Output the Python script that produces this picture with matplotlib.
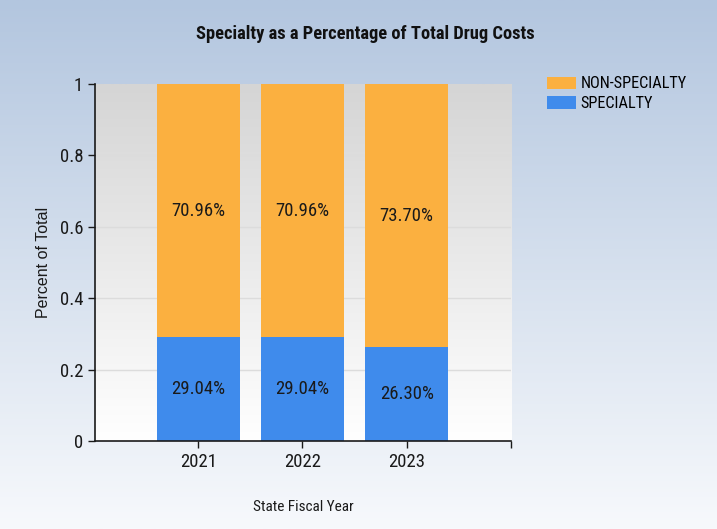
import matplotlib
matplotlib.use('Agg')
import matplotlib.pyplot as plt
import numpy as np
from matplotlib.colors import LinearSegmentedColormap

years = ['2021', '2022', '2023']
specialty = [0.2904, 0.2904, 0.2630]
non_specialty = [0.7096, 0.7096, 0.7370]
spec_labels = ['29.04%', '29.04%', '26.30%']
non_labels = ['70.96%', '70.96%', '73.70%']
yticks = [0, 0.2, 0.4, 0.6, 0.8, 1]

plt.rcParams['font.family'] = ['Roboto Condensed', 'DejaVu Sans']
orange = '#fbb040'
blue = '#3f8bec'
txt = '#1a1a1a'

fig = plt.figure(figsize=(7.17, 5.29), dpi=100)

# figure background gradient
bg = fig.add_axes([0, 0, 1, 1], zorder=-10)
bg_cmap = LinearSegmentedColormap.from_list('bg', ['#b3c6df', '#f7f9fc'])
bg.imshow(np.linspace(0, 1, 256).reshape(-1, 1), aspect='auto', cmap=bg_cmap,
          extent=[0, 1, 0, 1])
bg.axis('off')

ax = fig.add_axes([0.1325, 0.1664, 0.5802, 0.6748])
x = np.arange(len(years))
ax.set_xlim(-0.99, 3.0)
ax.set_ylim(0, 1)

# plot area gradient
pa_cmap = LinearSegmentedColormap.from_list('pa', ['#d5d5d5', '#ffffff'])
ax.imshow(np.linspace(0, 1, 256).reshape(-1, 1), aspect='auto', cmap=pa_cmap,
          extent=[-0.99, 3.0, 0, 1], zorder=0)

for t in [0.2, 0.4, 0.6, 0.8]:
    ax.axhline(t, color='#dcdcdc', lw=1, zorder=1)

b1 = ax.bar(x, specialty, width=0.8, color=blue, zorder=2, label='SPECIALTY')
b2 = ax.bar(x, non_specialty, width=0.8, bottom=specialty, color=orange, zorder=2,
            label='NON-SPECIALTY')
ax.bar_label(b1, labels=spec_labels, label_type='center', fontsize=13.5, color=txt)
ax.bar_label(b2, labels=non_labels, label_type='center', fontsize=13.5, color=txt)

ax.set_xticks(list(x) + [3.0])
ax.set_xticklabels(years + [''], fontsize=13.5, color=txt)
ax.set_yticks(yticks)
ax.set_yticklabels(['{:g}'.format(v) for v in yticks], fontsize=13.5, color=txt)
ax.tick_params(length=5, width=1, color=txt, pad=3.5)

for s in ['top', 'right']:
    ax.spines[s].set_visible(False)
for s in ['left', 'bottom']:
    ax.spines[s].set_color(txt)
    ax.spines[s].set_linewidth(1.2)

ax.set_ylabel('Percent of Total', fontsize=11.5, color=txt, labelpad=6,
              family=['Liberation Sans', 'DejaVu Sans'])
ax.set_xlabel('State Fiscal Year', fontsize=11, color=txt, labelpad=21)

fig.text(0.509, 0.935, 'Specialty as a Percentage of Total Drug Costs', ha='center',
         va='center', fontsize=13.3, fontweight='bold', color='#111111')

ax.legend(handles=[b2, b1], loc='upper left', bbox_to_anchor=(1.067, 1.044),
          frameon=False, fontsize=11.7, handlelength=1.8, handleheight=0.8,
          handletextpad=0.25, labelspacing=0.3, borderpad=0)

fig.savefig('out.png', dpi=100)
